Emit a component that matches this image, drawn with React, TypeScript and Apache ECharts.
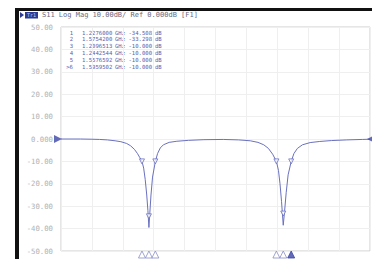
import React, { useEffect, useRef } from "react";
import * as echarts from "echarts";

// Sweep span (GHz)
const START_GHZ = 1.0;
const STOP_GHZ = 1.8;

// S11 trace
const freqGHz = [
  1.0, 1.05, 1.08, 1.1, 1.12, 1.14, 1.155, 1.17, 1.18, 1.19, 1.198, 1.204, 1.2097,
  1.214, 1.218, 1.222, 1.225, 1.2276, 1.23, 1.233, 1.237, 1.2443, 1.25, 1.257, 1.265,
  1.28, 1.3, 1.33, 1.37, 1.42, 1.46, 1.49, 1.51, 1.525, 1.537, 1.548, 1.5577, 1.563,
  1.567, 1.571, 1.5754, 1.579, 1.583, 1.588, 1.596, 1.603, 1.612, 1.625, 1.645, 1.67,
  1.7, 1.74, 1.78, 1.8,
];
const s11dB = [
  0.0, 0.0, -0.1, -0.2, -0.4, -0.8, -1.2, -2.0, -3.0, -4.6, -6.5, -8.3, -10.0,
  -13, -18, -25, -32, -39.5, -33, -25, -17, -10.0, -6.5, -4.0, -2.6,
  -1.5, -1.0, -0.6, -0.3, -0.2, -0.4, -0.8, -1.5, -2.6, -4.2, -6.8, -10.0, -14,
  -20, -28, -38.5, -32, -24, -16, -10.0, -6.5, -4.2, -2.6, -1.6, -1.1,
  -0.7, -0.4, -0.2, -0.1,
];

// Marker table
const markerIds = ["1", "2", "3", "4", "5", "6"];
const markerFreqGHz = [1.2276, 1.57542, 1.2096513, 1.2442544, 1.5576592, 1.5959502];
const markerDb = [-34.508, -33.298, -10.0, -10.0, -10.0, -10.0];
const activeMarker = "6";

const refLevelDb = 0;
const titleText = "S11 Log Mag 10.00dB/ Ref 0.000dB [F1]";

const TRACE = "#6a71bf";
const MONO = "'DejaVu Sans Mono', monospace";

const toX = (f: number) => (f - START_GHZ) * 1000; // MHz offset from start
const fmtY = (v: number) => (v === 0 ? "0.000" : v.toFixed(2));

export default function App() {
  const ref = useRef<HTMLDivElement>(null);
  useEffect(() => {
    if (!ref.current) return;
    const chart = echarts.init(ref.current, null, { renderer: "svg" });

    const tableRows: any[] = [];
    markerIds.forEach((id, i) => {
      const y = 32.5 + i * 6.8;
      const style = { fontFamily: MONO, fontSize: 5.6, fill: "#5a60ae" };
      tableRows.push(
        { type: "text", x: 73, y, style: { ...style, text: (id === activeMarker ? ">" : "") + id, align: "right", verticalAlign: "middle" } },
        { type: "text", x: 82, y, style: { ...style, text: markerFreqGHz[i].toFixed(7), align: "left", verticalAlign: "middle" } },
        { type: "text", x: 115, y, style: { ...style, text: "GHz", align: "left", verticalAlign: "middle" } },
        { type: "text", x: 152, y, style: { ...style, text: markerDb[i].toFixed(3), align: "right", verticalAlign: "middle" } },
        { type: "text", x: 155, y, style: { ...style, text: "dB", align: "left", verticalAlign: "middle" } }
      );
    });

    chart.setOption({
      animation: false,
      backgroundColor: "#ffffff",
      grid: {
        left: 61, top: 27, width: 309, height: 224,
        show: true, borderColor: "#cdcdcd", borderWidth: 1, backgroundColor: "#ffffff",
      },
      xAxis: {
        type: "value",
        min: toX(START_GHZ),
        max: toX(STOP_GHZ),
        interval: 80,
        axisLine: { show: false },
        axisTick: { show: false },
        axisLabel: { show: false },
        splitLine: { lineStyle: { color: "#efefef", width: 1 } },
      },
      yAxis: {
        type: "value",
        min: -50,
        max: 50,
        interval: 10,
        axisLine: { show: false },
        axisTick: { show: false },
        axisLabel: {
          formatter: (v: number) => fmtY(v),
          color: "#b2b2b2",
          fontFamily: MONO,
          fontSize: 7.3,
          margin: 8,
        },
        splitLine: { lineStyle: { color: "#efefef", width: 1 } },
      },
      series: [
        {
          type: "line",
          data: freqGHz.map((f, i) => [toX(f), s11dB[i]]),
          showSymbol: false,
          symbol: "none",
          lineStyle: { color: TRACE, width: 1 },
          silent: true,
          z: 3,
        },
        {
          type: "scatter",
          data: markerFreqGHz.map((f, i) => [toX(f), markerDb[i]]),
          symbol: "triangle",
          symbolRotate: 180,
          symbolSize: 5,
          itemStyle: { color: "#ffffff", borderColor: TRACE, borderWidth: 1 },
          z: 4,
        },
        {
          type: "scatter",
          clip: false,
          data: markerFreqGHz.map((f, i) => ({
            value: [toX(f), -50],
            itemStyle: markerIds[i] === activeMarker
              ? { color: "#3c46a8", borderColor: "#3c46a8", borderWidth: 1 }
              : { color: "#ffffff", borderColor: "#8a8fc8", borderWidth: 1 },
          })),
          symbol: "triangle",
          symbolSize: 7,
          symbolOffset: [0, 3.5],
          z: 5,
        },
        {
          type: "scatter",
          clip: false,
          data: [[toX(START_GHZ), refLevelDb]],
          symbol: "triangle",
          symbolRotate: -90,
          symbolSize: 8,
          symbolOffset: [-3, 0],
          itemStyle: { color: "#3c46a8" },
          z: 5,
        },
        {
          type: "scatter",
          clip: false,
          data: [[toX(STOP_GHZ), refLevelDb]],
          symbol: "triangle",
          symbolRotate: 90,
          symbolSize: 6,
          itemStyle: { color: "#3c46a8" },
          z: 5,
        },
      ],
      graphic: [
        { type: "rect", shape: { x: 15, y: 8, width: 357, height: 3 }, style: { fill: "#111111" } },
        { type: "rect", shape: { x: 15, y: 8, width: 4, height: 251 }, style: { fill: "#111111" } },
        { type: "polygon", shape: { points: [[20, 12], [24, 15], [20, 18]] }, style: { fill: "#2c3a94" } },
        { type: "rect", shape: { x: 25, y: 12, width: 13, height: 6.5 }, style: { fill: "#2c3a94" } },
        { type: "text", x: 31.5, y: 15.3, style: { text: "Tr1", fontFamily: MONO, fontSize: 5, fill: "#c8ccf0", align: "center", verticalAlign: "middle" } },
        { type: "text", x: 42, y: 15, style: { text: titleText, fontFamily: MONO, fontSize: 7, fill: "#6a6a82", align: "left", verticalAlign: "middle" } },
        ...tableRows,
      ],
    });
    return () => chart.dispose();
  }, []);
  return (
    <div
      ref={ref}
      style={{ position: "fixed", left: 0, top: 0, width: 372, height: 259 }}
    />
  );
}
